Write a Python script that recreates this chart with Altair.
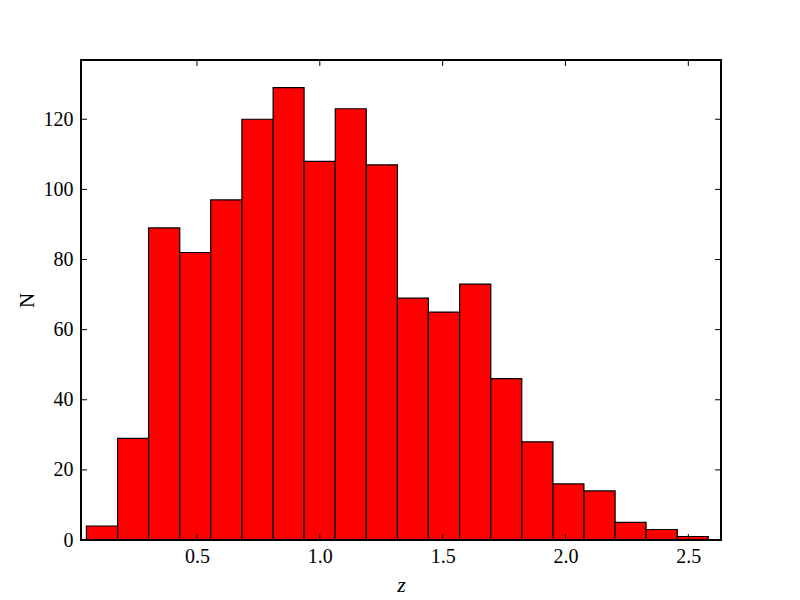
import altair as alt
import pandas as pd

# Histogram data
bin_edges = [0.050, 0.177, 0.303, 0.430, 0.556, 0.683, 0.810, 0.936, 1.063, 1.189,
             1.316, 1.442, 1.569, 1.696, 1.822, 1.949, 2.075, 2.202, 2.328, 2.455, 2.581]
counts = [4, 29, 89, 82, 97, 120, 129, 108, 123, 107,
          69, 65, 73, 46, 28, 16, 14, 5, 3, 1]
x_ticks = [0.5, 1.0, 1.5, 2.0, 2.5]
y_ticks = [0, 20, 40, 60, 80, 100, 120]
x_domain = [0.028, 2.633]
y_domain = [0, 136.9]

bars_df = pd.DataFrame({"start": bin_edges[:-1], "end": bin_edges[1:], "count": counts})
xt_df = pd.DataFrame({"v": x_ticks})
yt_df = pd.DataFrame({"v": y_ticks})

FONT = "Liberation Serif"
W, H = 640, 480
TICK = 6

xscale = alt.Scale(domain=x_domain, nice=False, zero=False)
yscale = alt.Scale(domain=y_domain, nice=False, zero=False)

bars = alt.Chart(bars_df).mark_rect(color="#ff0000", stroke="black", strokeWidth=1.2).encode(
    x=alt.X("start:Q", scale=xscale,
            axis=alt.Axis(values=x_ticks, format=".1f", ticks=False, grid=False,
                          title="z", titleFontStyle="italic", titleFont=FONT,
                          titleFontSize=22, titleFontWeight="normal",
                          labelFont=FONT, labelFontSize=20, labelPadding=6,
                          titlePadding=8, domainColor="black", labelColor="black",
                          titleColor="black")),
    x2="end:Q",
    y=alt.Y("count:Q", scale=yscale,
            axis=alt.Axis(values=y_ticks, format="d", ticks=False, grid=False,
                          title="N", titleFont=FONT, titleFontSize=21,
                          titleFontWeight="normal", labelFont=FONT, labelFontSize=20,
                          labelPadding=8, titlePadding=6, domainColor="black",
                          labelColor="black", titleColor="black")),
    y2=alt.datum(0),
)

frame = alt.Chart(xt_df).mark_rect(fill=None, stroke="black", strokeWidth=1.3).encode(
    x=alt.value(0), x2=alt.value(W), y=alt.value(0), y2=alt.value(H))

xt_bottom = alt.Chart(xt_df).mark_rule(color="black", strokeWidth=1).encode(
    x=alt.X("v:Q", scale=xscale), y=alt.value(H), y2=alt.value(H - TICK))
xt_top = alt.Chart(xt_df).mark_rule(color="black", strokeWidth=1).encode(
    x=alt.X("v:Q", scale=xscale), y=alt.value(0), y2=alt.value(TICK))
yt_left = alt.Chart(yt_df).mark_rule(color="black", strokeWidth=1).encode(
    y=alt.Y("v:Q", scale=yscale), x=alt.value(0), x2=alt.value(TICK))
yt_right = alt.Chart(yt_df).mark_rule(color="black", strokeWidth=1).encode(
    y=alt.Y("v:Q", scale=yscale), x=alt.value(W), x2=alt.value(W - TICK))

chart = alt.layer(bars, frame, xt_bottom, xt_top, yt_left, yt_right).properties(
    width=W, height=H,
    autosize=alt.AutoSizeParams(type="none"),
    padding={"left": 73, "top": 52, "right": 30, "bottom": 60},
).configure(background="white").configure_view(stroke="black", strokeWidth=1.2)

chart.save("out.html", embed_options={"renderer": "svg", "actions": False})
